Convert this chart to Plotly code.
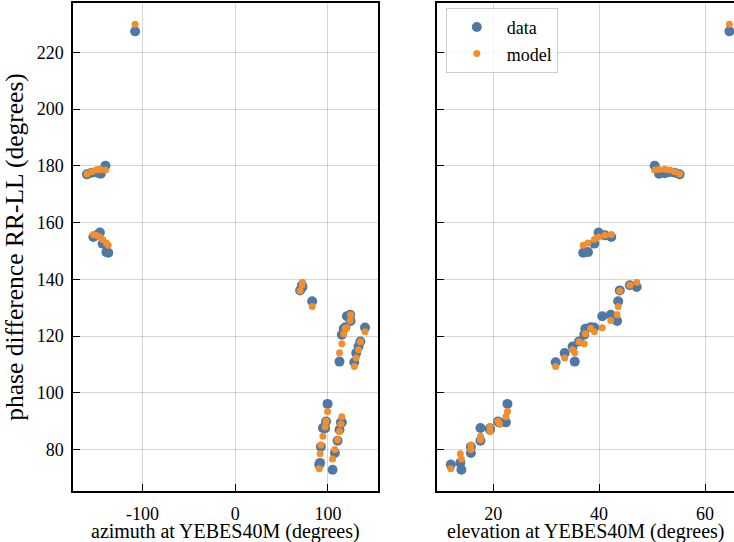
import plotly.graph_objects as go

# Phase difference RR-LL per scan: telescope pointing and measured vs model phase
azimuth = [
    -108,
    -140, -145, -147, -150, -155, -160,
    -137, -139, -143, -146, -150, -153,
    128.4, 130.5, 133, 112.5, 135, 115, 117, 118.7, 140, 120.5, 124, 124.5, 83, 70, 72, 72.5,
    90.6, 91.5, 105, 107.5, 92.4, 110.4, 94.6, 112.5, 97, 98, 114, 115, 99.6,
]
elevation = [
    64.6,
    50.5, 51.3, 52.4, 53.3, 54.3, 55.2,
    37.0, 37.9, 39.1, 39.9, 41.1, 42.3,
    31.8, 33.5, 35.0, 35.4, 36.2, 37.2, 37.4, 38.4, 39.1, 40.6, 42.2, 43.4, 43.6, 43.9, 45.8, 47.1,
    12.0, 13.8, 14.0, 15.8, 15.8, 17.6, 17.6, 19.4, 19.4, 20.9, 21.2, 22.4, 22.7,
]
phase_data = [
    227.4,
    180.0, 177.2, 177.4, 177.8, 177.6, 177.0,
    149.4, 149.6, 152.6, 156.5, 155.5, 154.9,
    110.8, 114.0, 116.3, 111.0, 118.1, 120.5, 122.6, 123.1, 123.0, 127.0, 127.5, 125.3, 132.3, 136.1, 137.9, 137.3,
    74.7, 75.3, 72.9, 78.8, 81.0, 83.1, 87.6, 87.0, 87.5, 89.9, 89.5, 89.6, 96.1,
]
phase_model = [
    229.9,
    178.5, 178.7, 178.8, 178.5, 177.9, 177.1,
    152.0, 152.8, 154.0, 154.9, 155.5, 155.8,
    109.3, 112.3, 115.2, 114.1, 118.0, 117.3, 120.8, 122.8, 121.5, 122.9, 125.5, 127.5, 130.4, 135.9, 137.9, 139.0,
    73.2, 78.5, 76.7, 80.0, 81.6, 83.5, 84.7, 86.4, 88.0, 90.0, 89.0, 91.6, 93.4,
]

az_ticks = [-100, 0, 100]
az_labels = ["-100", "0", "100"]
el_ticks = [20, 40, 60]
phase_ticks = [80, 100, 120, 140, 160, 180, 200, 220]

BLUE = "#4E79A7"
ORANGE = "#F28E2B"
FONT = "Liberation Serif"

LEFT_DOMAIN = [0, 0.4614]
RIGHT_DOMAIN = [0.5507, 1.0]

fig = go.Figure()

for xs, xa, show in [(azimuth, "x", True), (elevation, "x2", False)]:
    ya = "y" if xa == "x" else "y2"
    fig.add_trace(go.Scatter(
        x=xs, y=phase_data, mode="markers", name="data", showlegend=show,
        marker=dict(color=BLUE, size=10), xaxis=xa, yaxis=ya,
    ))
    fig.add_trace(go.Scatter(
        x=xs, y=phase_model, mode="markers", name="model", showlegend=show,
        marker=dict(color=ORANGE, size=7), xaxis=xa, yaxis=ya,
    ))

axis_common = dict(
    showline=True, linecolor="black", linewidth=1.5,
    ticks="inside", ticklen=7, tickwidth=1, tickcolor="black",
    showgrid=True, gridcolor="rgba(0,0,0,0.16)", gridwidth=1,
    zeroline=False, automargin=False,
    tickfont=dict(family=FONT, size=18, color="black"),
)
xtitle_font = dict(family=FONT, size=20, color="black")
ytitle_font = dict(family=FONT, size=25.5, color="black")

yrange = [65.4, 237.4]

fig.update_layout(
    width=734, height=542,
    margin=dict(l=73, r=0, t=3, b=51),
    paper_bgcolor="white", plot_bgcolor="white",
    font=dict(family=FONT, color="black"),
    xaxis=dict(
        axis_common, domain=LEFT_DOMAIN, range=[-175, 154], mirror=True,
        tickvals=az_ticks, ticktext=az_labels, ticklabelstandoff=6,
        anchor="y",
    ),
    yaxis=dict(
        axis_common, domain=[0, 1], range=yrange, mirror=True,
        tickvals=phase_ticks, ticklabelstandoff=4,
        title=dict(text="phase difference RR-LL (degrees)", font=ytitle_font, standoff=6),
        anchor="x",
    ),
    xaxis2=dict(
        axis_common, domain=RIGHT_DOMAIN, range=[9.4, 65.47], mirror=True,
        tickvals=el_ticks, ticklabelstandoff=6,
        anchor="y2",
    ),
    yaxis2=dict(
        axis_common, domain=[0, 1], range=yrange, mirror=False,
        tickvals=phase_ticks, showticklabels=False,
        anchor="x2", matches="y",
    ),
    legend=dict(
        x=0.564, y=0.99, xanchor="left", yanchor="top",
        bgcolor="rgba(255,255,255,0.8)", bordercolor="#cccccc", borderwidth=1,
        font=dict(family=FONT, size=18, color="black"),
        itemwidth=50, tracegroupgap=2,
    ),
)

# x-axis titles, centred under each panel
for text, dom in [("azimuth at YEBES40M (degrees)", LEFT_DOMAIN),
                  ("elevation at YEBES40M (degrees)", RIGHT_DOMAIN)]:
    fig.add_annotation(
        text=text, xref="paper", yref="paper",
        x=(dom[0] + dom[1]) / 2, y=-0.082, xanchor="center", yanchor="middle",
        showarrow=False, font=xtitle_font,
    )

fig.write_html("out.html")
